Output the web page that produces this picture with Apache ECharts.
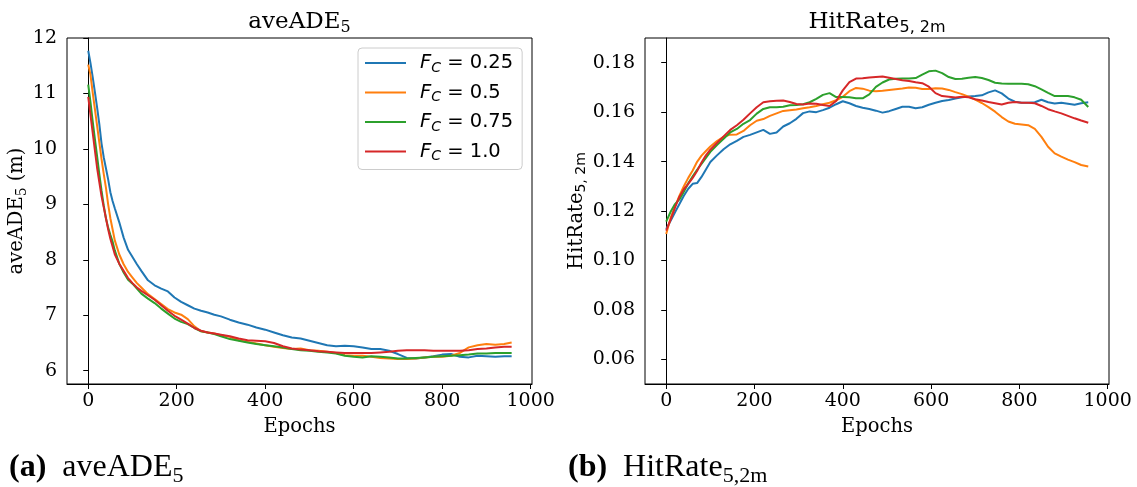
<!DOCTYPE html>
<html><head><meta charset="utf-8">
<script src="https://cdn.jsdelivr.net/npm/echarts@6/dist/echarts.min.js"></script>
<style>html,body{margin:0;padding:0;background:#fff}#c{width:1137px;height:487px}</style>
</head><body><div id="c"></div>
<script>
// ---------- data ----------
const epochsA = [0,5,10,15,20,25,30,35,40,45,50,55,60,70,80,90,100,110,120,135,150,165,180,195,210,225,240,255,270,285,300,320,340,360,380,400,420,440,460,480,500,520,540,560,580,600,620,640,660,680,700,720,740,760,780,800,820,840,860,880,900,920,940,957];
const adeFc025 = [11.77,11.55,11.30,11.03,10.75,10.45,10.10,9.85,9.65,9.45,9.22,9.06,8.93,8.68,8.40,8.18,8.05,7.92,7.80,7.63,7.54,7.48,7.43,7.32,7.24,7.18,7.12,7.08,7.05,7.01,6.98,6.92,6.87,6.83,6.78,6.74,6.69,6.64,6.60,6.58,6.54,6.50,6.46,6.44,6.45,6.44,6.42,6.39,6.39,6.36,6.30,6.23,6.22,6.24,6.26,6.29,6.30,6.25,6.24,6.27,6.26,6.25,6.26,6.26];
const adeFc05  = [11.52,11.34,11.02,10.72,10.42,10.12,9.82,9.55,9.30,9.00,8.75,8.55,8.35,8.10,7.92,7.78,7.68,7.58,7.50,7.38,7.29,7.20,7.11,7.05,7.01,6.93,6.80,6.71,6.69,6.67,6.64,6.61,6.55,6.52,6.49,6.46,6.43,6.41,6.39,6.40,6.37,6.36,6.34,6.32,6.28,6.27,6.27,6.25,6.23,6.22,6.21,6.21,6.22,6.24,6.25,6.25,6.27,6.32,6.42,6.46,6.48,6.47,6.48,6.51];
const adeFc075 = [11.16,10.85,10.50,10.18,9.87,9.55,9.25,8.98,8.75,8.58,8.45,8.33,8.17,7.93,7.77,7.64,7.57,7.48,7.39,7.30,7.22,7.12,7.03,6.94,6.88,6.84,6.77,6.71,6.69,6.66,6.62,6.57,6.54,6.51,6.48,6.46,6.44,6.42,6.39,6.37,6.36,6.34,6.33,6.31,6.27,6.25,6.24,6.26,6.25,6.24,6.22,6.22,6.23,6.24,6.25,6.26,6.27,6.28,6.29,6.31,6.31,6.32,6.32,6.32];
const adeFc10  = [10.94,10.62,10.30,9.98,9.66,9.40,9.15,8.95,8.75,8.55,8.38,8.24,8.10,7.93,7.80,7.67,7.58,7.50,7.44,7.36,7.28,7.18,7.08,6.99,6.92,6.85,6.77,6.72,6.69,6.67,6.65,6.62,6.58,6.55,6.54,6.53,6.50,6.44,6.40,6.38,6.37,6.35,6.34,6.33,6.32,6.32,6.32,6.32,6.33,6.34,6.36,6.37,6.37,6.37,6.36,6.36,6.36,6.36,6.37,6.39,6.40,6.42,6.43,6.43];

const epochsB = [0,10,20,30,40,50,60,70,80,90,100,115,130,145,160,175,190,205,220,235,250,265,280,295,310,325,340,355,370,385,400,415,430,445,460,475,490,505,520,535,550,565,580,595,610,625,640,655,670,685,700,715,730,745,760,775,790,805,820,835,850,865,880,895,910,925,940,956];
const hitFc025 = [0.1127,0.1160,0.1195,0.1228,0.1262,0.1290,0.1310,0.1313,0.1338,0.1368,0.1398,0.1425,0.1450,0.1470,0.1484,0.1500,0.1508,0.1518,0.1528,0.1512,0.1518,0.1542,0.1555,0.1573,0.1596,0.1603,0.1600,0.1608,0.1618,0.1632,0.1644,0.1636,0.1625,0.1618,0.1613,0.1606,0.1598,0.1604,0.1613,0.1622,0.1622,0.1616,0.1620,0.1630,0.1638,0.1645,0.1649,0.1655,0.1660,0.1663,0.1665,0.1668,0.1680,0.1688,0.1676,0.1655,0.1642,0.1638,0.1638,0.1640,0.1650,0.1640,0.1635,0.1638,0.1634,0.1630,0.1636,0.1640];
const hitFc05  = [0.1107,0.1172,0.1218,0.1262,0.1300,0.1334,0.1364,0.1399,0.1424,0.1443,0.1461,0.1483,0.1500,0.1509,0.1510,0.1524,0.1547,0.1565,0.1572,0.1585,0.1595,0.1605,0.1608,0.1611,0.1616,0.1620,0.1625,0.1632,0.1638,0.1648,0.1662,0.1685,0.1698,0.1695,0.1687,0.1685,0.1687,0.1690,0.1693,0.1696,0.1700,0.1699,0.1694,0.1694,0.1697,0.1696,0.1690,0.1681,0.1673,0.1663,0.1651,0.1637,0.1620,0.1602,0.1580,0.1562,0.1553,0.1550,0.1547,0.1532,0.1500,0.1460,0.1433,0.1420,0.1408,0.1398,0.1386,0.1380];
const hitFc075 = [0.1157,0.1197,0.1228,0.1247,0.1278,0.1312,0.1340,0.1367,0.1391,0.1415,0.1439,0.1467,0.1492,0.1518,0.1532,0.1553,0.1568,0.1594,0.1613,0.1620,0.1620,0.1622,0.1628,0.1629,0.1632,0.1640,0.1654,0.1670,0.1677,0.1661,0.1661,0.1660,0.1656,0.1656,0.1672,0.1702,0.1720,0.1732,0.1735,0.1736,0.1736,0.1738,0.1752,0.1765,0.1768,0.1758,0.1742,0.1734,0.1735,0.1739,0.1742,0.1738,0.1730,0.1719,0.1716,0.1715,0.1715,0.1715,0.1713,0.1705,0.1692,0.1678,0.1665,0.1665,0.1665,0.1660,0.1650,0.1621];
const hitFc10  = [0.1121,0.1165,0.1215,0.1258,0.1288,0.1310,0.1334,0.1362,0.1396,0.1425,0.1448,0.1475,0.1502,0.1528,0.1547,0.1569,0.1595,0.1620,0.1640,0.1644,0.1646,0.1647,0.1641,0.1633,0.1631,0.1635,0.1634,0.1629,0.1625,0.1645,0.1688,0.1721,0.1736,0.1737,0.1740,0.1742,0.1744,0.1739,0.1734,0.1729,0.1726,0.1721,0.1717,0.1703,0.1677,0.1665,0.1662,0.1659,0.1662,0.1660,0.1652,0.1647,0.1641,0.1636,0.1631,0.1638,0.1641,0.1638,0.1638,0.1636,0.1625,0.1612,0.1603,0.1595,0.1585,0.1575,0.1566,0.1557];

const fcLabels = ['0.25','0.5','0.75','1.0'];
const xTicks = [0,200,400,600,800,1000];
const adeTicks = [6,7,8,9,10,11,12];
const hitTicks = [0.06,0.08,0.10,0.12,0.14,0.16,0.18];

// ---------- chart ----------
const colors = ['#1f77b4','#ff7f0e','#2ca02c','#d62728'];
const names = fcLabels.map(v => 'F_C = ' + v);
const adeSeries = [adeFc025, adeFc05, adeFc075, adeFc10];
const hitSeries = [hitFc025, hitFc05, hitFc075, hitFc10];
const SERIF = 'DejaVu Serif', SANS = 'DejaVu Sans', CAP = 'Liberation Serif';
const TICK = 19, LAB = 19.5;

function xAxisCfg(gi) {
  return {
    type: 'value', gridIndex: gi, min: -48, max: 1003,
    axisLine: {show: true, onZero: false, lineStyle: {color: '#000', width: 1}},
    axisTick: {show: true, length: 5, customValues: xTicks, lineStyle: {color: '#000', width: 1}},
    axisLabel: {customValues: xTicks, fontFamily: SERIF, fontSize: TICK, lineHeight: 19, color: '#000', margin: 8,
                formatter: v => String(v)},
    splitLine: {show: false},
    name: 'Epochs', nameLocation: 'middle', nameGap: 29,
    nameTextStyle: {fontFamily: SERIF, fontSize: LAB, lineHeight: 22, color: '#000'}
  };
}
function yRich(subFont) {
  return {
    m: {fontFamily: SERIF, fontSize: LAB, lineHeight: 24, color: '#000', verticalAlign: 'middle'},
    s: {fontFamily: subFont, fontSize: 14, lineHeight: 14, color: '#000', verticalAlign: 'bottom'}
  };
}
function titleRich(subFont) {
  return {
    m: {fontFamily: SERIF, fontSize: 23, lineHeight: 28, fill: '#000', verticalAlign: 'middle'},
    s: {fontFamily: subFont, fontSize: 16, lineHeight: 16, fill: '#000', verticalAlign: 'bottom'}
  };
}
const capRich = {
  b: {fontFamily: CAP, fontWeight: 'bold', fontSize: 32, lineHeight: 38, fill: '#000', verticalAlign: 'middle'},
  n: {fontFamily: CAP, fontSize: 32, lineHeight: 38, fill: '#000', verticalAlign: 'middle', padding: [0, 0, 0, 16]},
  s: {fontFamily: CAP, fontSize: 22, lineHeight: 22, fill: '#000', verticalAlign: 'bottom'}
};

const option = {
  animation: false,
  backgroundColor: '#fff',
  grid: [
    {left: 67, top: 38, width: 465, height: 346, show: true, borderColor: '#000', borderWidth: 1, backgroundColor: 'transparent'},
    {left: 645, top: 38, width: 464, height: 346, show: true, borderColor: '#000', borderWidth: 1, backgroundColor: 'transparent'}
  ],
  xAxis: [xAxisCfg(0), xAxisCfg(1)],
  yAxis: [
    {type: 'value', gridIndex: 0, min: 5.76, max: 12.0,
     axisLine: {show: true, lineStyle: {color: '#000', width: 1}},
     axisTick: {show: true, length: 5, customValues: adeTicks, lineStyle: {color: '#000'}},
     axisLabel: {customValues: adeTicks, fontFamily: SERIF, fontSize: TICK, color: '#000', margin: 10},
     splitLine: {show: false},
     name: '{m|aveADE}{s|5}{m| (m)}', nameLocation: 'middle', nameRotate: 90, nameGap: 34,
     nameTextStyle: {rich: yRich(SERIF)}},
    {type: 'value', gridIndex: 1, min: 0.05, max: 0.19,
     axisLine: {show: true, lineStyle: {color: '#000', width: 1}},
     axisTick: {show: true, length: 5, customValues: hitTicks, lineStyle: {color: '#000'}},
     axisLabel: {customValues: hitTicks, fontFamily: SERIF, fontSize: TICK, color: '#000', margin: 10,
                 formatter: v => v.toFixed(2)},
     splitLine: {show: false},
     name: '{m|HitRate}{s|5, 2m}', nameLocation: 'middle', nameRotate: 90, nameGap: 56,
     nameTextStyle: {rich: yRich(SANS)}}
  ],
  legend: {
    data: names, orient: 'vertical', left: 358, top: 48,
    padding: [3, 9, 6, 7], itemGap: 5.5, itemWidth: 41, itemHeight: 2, icon: 'rect',
    backgroundColor: 'rgba(255,255,255,0.8)', borderColor: '#cccccc', borderWidth: 1, borderRadius: 4,
    selectedMode: false,
    formatter: name => '{f|F}{c|C}{t| = ' + name.split('= ')[1] + '}',
    textStyle: {
      lineHeight: 24,
      rich: {
        f: {fontFamily: SANS, fontStyle: 'italic', fontSize: 19.5, lineHeight: 24, color: '#000', verticalAlign: 'middle', padding: [0, 0, 0, 9]},
        c: {fontFamily: SANS, fontStyle: 'italic', fontSize: 14, lineHeight: 14, color: '#000', verticalAlign: 'bottom'},
        t: {fontFamily: SANS, fontSize: 19.5, lineHeight: 24, color: '#000', verticalAlign: 'middle'}
      }
    }
  },
  graphic: [
    {type: 'text', x: 299.5, y: 22, style: {
      text: '{m|aveADE}{s|5}', align: 'center', verticalAlign: 'middle', textAlign: 'center', textVerticalAlign: 'middle',
      rich: titleRich(SERIF)}},
    {type: 'text', x: 877, y: 22, style: {
      text: '{m|HitRate}{s|5, 2m}', align: 'center', verticalAlign: 'middle', textAlign: 'center', textVerticalAlign: 'middle',
      rich: titleRich(SANS)}},
    {type: 'text', x: 9, y: 468, style: {
      text: '{b|(a)}{n|aveADE}{s|5}', align: 'left', verticalAlign: 'middle', textAlign: 'left', textVerticalAlign: 'middle',
      rich: capRich}},
    {type: 'text', x: 568, y: 468, style: {
      text: '{b|(b)}{n|HitRate}{s|5,2m}', align: 'left', verticalAlign: 'middle', textAlign: 'left', textVerticalAlign: 'middle',
      rich: capRich}}
  ],
  series: []
};

adeSeries.forEach((vals, i) => {
  option.series.push({
    type: 'line', name: names[i], xAxisIndex: 0, yAxisIndex: 0,
    data: epochsA.map((x, j) => [x, vals[j]]),
    symbol: 'none', showSymbol: false, silent: true,
    lineStyle: {width: 2, color: colors[i]}, itemStyle: {color: colors[i]}
  });
});
hitSeries.forEach((vals, i) => {
  option.series.push({
    type: 'line', name: names[i], xAxisIndex: 1, yAxisIndex: 1,
    data: epochsB.map((x, j) => [x, vals[j]]),
    symbol: 'none', showSymbol: false, silent: true,
    lineStyle: {width: 2, color: colors[i]}, itemStyle: {color: colors[i]}
  });
});

const chart = echarts.init(document.getElementById('c'), null, {renderer: 'canvas'});
chart.setOption(option);
</script>
</body></html>
